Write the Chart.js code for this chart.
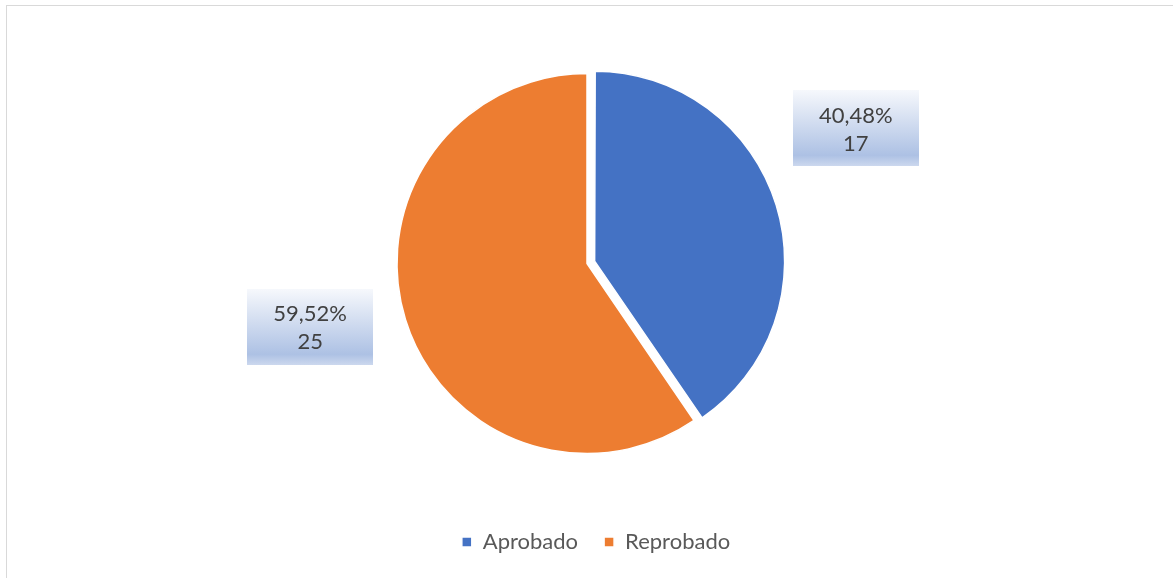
<!DOCTYPE html>
<html>
<head>
<meta charset="utf-8">
<script src="https://cdn.jsdelivr.net/npm/chart.js@4/dist/chart.umd.min.js"></script>
<style>
  html, body { margin: 0; padding: 0; background: #fff; }
  #marco { position: absolute; left: 6px; top: 5px; width: 1167px; height: 573px; border-top: 1px solid #d9d9d9; border-left: 1px solid #d9d9d9; }
  #grafico { position: absolute; left: 0; top: 0; }
</style>
</head>
<body>
<div id="marco"></div>
<canvas id="grafico" width="1173" height="578"></canvas>
<script>
// Resultados
const categorias = ['Aprobado', 'Reprobado'];
const cantidades = [17, 25];
const colores = ['#4472C4', '#ED7D31'];

const total = cantidades.reduce((a, b) => a + b, 0);
const porcentajes = cantidades.map(v => (v / total * 100).toFixed(2).replace('.', ',') + '%');

// Cajas con porcentaje y cantidad junto a cada porción
const etiquetasCaja = {
    id: 'etiquetasCaja',
    afterDatasetsDraw(chart, args, opts) {
        const ctx = chart.ctx;
        const arcos = chart.getDatasetMeta(0).data;
        ctx.save();
        ctx.font = '22px Lato';
        arcos.forEach((arco, i) => {
            const {x, y} = arco.getProps(['x', 'y'], true);
            const r = chart.options.radius;
            const [ax, ay] = opts.anclas[i];
            const cx = x + ax * r;
            const cy = y + ay * r;
            const lineas = [porcentajes[i], String(cantidades[i])];
            const ancho = Math.round(Math.max(...lineas.map(t => ctx.measureText(t).width)) + 52);
            const alto = 76;
            const izq = Math.round(cx - ancho / 2);
            const arriba = Math.round(cy - alto / 2);
            const grad = ctx.createLinearGradient(0, arriba, 0, arriba + alto);
            grad.addColorStop(0, '#f6f8fc');
            grad.addColorStop(0.86, '#adc1e4');
            grad.addColorStop(1, '#ccd8ee');
            ctx.fillStyle = grad;
            ctx.fillRect(izq, arriba, ancho, alto);
            ctx.fillStyle = '#404040';
            ctx.textAlign = 'center';
            ctx.textBaseline = 'middle';
            ctx.fillText(lineas[0], cx, cy - 13);
            ctx.fillText(lineas[1], cx, cy + 15);
        });
        ctx.restore();
    }
};

// La porción separada conserva el mismo radio que las demás
const radioFijo = {
    id: 'radioFijo',
    afterDatasetUpdate(chart, args) {
        args.meta.data.forEach(arco => {
            const off = (arco.options.offset || 0) / 4;
            if (!off) return;
            const fix = 1 - Math.sin(Math.min(Math.PI, arco.circumference));
            arco.outerRadius -= off * fix;
        });
    }
};

// Mueve la leyenda un poco a la derecha
const desplazarLeyenda = {
    id: 'desplazarLeyenda',
    afterLayout(chart, args, opts) {
        chart.legend.left += opts.dx;
        chart.legend.right += opts.dx;
    }
};

new Chart(document.getElementById('grafico'), {
    type: 'pie',
    data: {
        labels: categorias,
        datasets: [{
            data: cantidades,
            backgroundColor: colores,
            borderColor: '#ffffff',
            borderWidth: 1.5,
            offset: [32, 0]
        }]
    },
    options: {
        responsive: false,
        animation: false,
        radius: 190,
        layout: { padding: { top: 22, bottom: 15, left: 1, right: 0 } },
        plugins: {
            legend: {
                position: 'bottom',
                labels: {
                    usePointStyle: true,
                    pointStyle: 'rect',
                    boxWidth: 10,
                    boxHeight: 10,
                    padding: 26,
                    color: '#595959',
                    font: { family: 'Lato', size: 22 }
                }
            },
            tooltip: { enabled: false },
            etiquetasCaja: { anclas: [[1.415, -0.711], [-1.457, 0.333]] },
            desplazarLeyenda: { dx: 9 }
        }
    },
    plugins: [radioFijo, etiquetasCaja, desplazarLeyenda]
});
</script>
</body>
</html>
